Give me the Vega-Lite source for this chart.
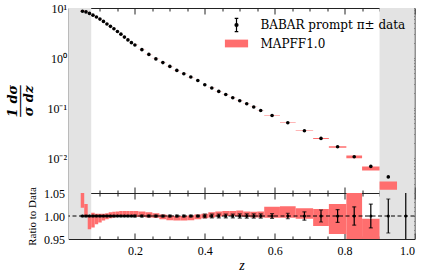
{
  "$schema": "https://vega.github.io/schema/vega-lite/v6.json",
  "padding": {"left": 6.5, "top": 2, "right": 5, "bottom": 2},
  "background": "white",
  "config": {
    "view": {"stroke": null},
    "font": "Liberation Serif",
    "axis": {
      "domainColor": "#222222", "tickColor": "#222222", "domainWidth": 1, "tickWidth": 1,
      "labelFont": "Liberation Serif", "labelFontSize": 12, "labelColor": "black",
      "titleFont": "Liberation Serif", "titleColor": "black", "grid": false, "zindex": 1
    }
  },
  "datasets": {
    "bands": [{"a": 0.01, "b": 0.075}, {"a": 0.9, "b": 1.0}],
    "ref": [{"r": 1}],
    "pts": [
      {"z":0.05,"zlo":0.045,"zhi":0.055,"y":8.6,"tlo":8.755,"thi":9.116,"rlo":1.018,"rhi":1.06,"elo":0.9985,"ehi":1.0015},
      {"z":0.06,"zlo":0.055,"zhi":0.065,"y":8.35,"tlo":8.35,"thi":8.567,"rlo":1.0,"rhi":1.026,"elo":0.9985,"ehi":1.0015},
      {"z":0.07,"zlo":0.065,"zhi":0.075,"y":7.8,"tlo":7.574,"thi":7.8,"rlo":0.971,"rhi":1.0,"elo":0.9985,"ehi":1.0015},
      {"z":0.08,"zlo":0.075,"zhi":0.085,"y":7.2,"tlo":7.02,"thi":7.25,"rlo":0.975,"rhi":1.007,"elo":0.9985,"ehi":1.0015},
      {"z":0.09,"zlo":0.085,"zhi":0.095,"y":6.6,"tlo":6.481,"thi":6.633,"rlo":0.982,"rhi":1.005,"elo":0.9985,"ehi":1.0015},
      {"z":0.10,"zlo":0.095,"zhi":0.105,"y":6.0,"tlo":5.916,"thi":6.03,"rlo":0.986,"rhi":1.005,"elo":0.9985,"ehi":1.0015},
      {"z":0.11,"zlo":0.105,"zhi":0.115,"y":5.4,"tlo":5.346,"thi":5.427,"rlo":0.99,"rhi":1.005,"elo":0.9985,"ehi":1.0015},
      {"z":0.12,"zlo":0.115,"zhi":0.125,"y":4.8,"tlo":4.766,"thi":4.829,"rlo":0.993,"rhi":1.006,"elo":0.9985,"ehi":1.0015},
      {"z":0.13,"zlo":0.125,"zhi":0.135,"y":4.3,"tlo":4.279,"thi":4.334,"rlo":0.995,"rhi":1.008,"elo":0.9985,"ehi":1.0015},
      {"z":0.14,"zlo":0.135,"zhi":0.145,"y":3.85,"tlo":3.838,"thi":3.885,"rlo":0.997,"rhi":1.009,"elo":0.9985,"ehi":1.0015},
      {"z":0.15,"zlo":0.145,"zhi":0.155,"y":3.4,"tlo":3.393,"thi":3.434,"rlo":0.998,"rhi":1.01,"elo":0.9985,"ehi":1.0015},
      {"z":0.16,"zlo":0.155,"zhi":0.165,"y":3.0,"tlo":2.994,"thi":3.033,"rlo":0.998,"rhi":1.011,"elo":0.9985,"ehi":1.0015},
      {"z":0.17,"zlo":0.165,"zhi":0.175,"y":2.62,"tlo":2.615,"thi":2.649,"rlo":0.998,"rhi":1.011,"elo":0.9985,"ehi":1.0015},
      {"z":0.18,"zlo":0.175,"zhi":0.185,"y":2.3,"tlo":2.295,"thi":2.325,"rlo":0.998,"rhi":1.011,"elo":0.9985,"ehi":1.0015},
      {"z":0.19,"zlo":0.185,"zhi":0.195,"y":2.03,"tlo":2.026,"thi":2.052,"rlo":0.998,"rhi":1.011,"elo":0.9985,"ehi":1.0015},
      {"z":0.20,"zlo":0.195,"zhi":0.21,"y":1.82,"tlo":1.816,"thi":1.84,"rlo":0.998,"rhi":1.011,"elo":0.998,"ehi":1.002},
      {"z":0.22,"zlo":0.21,"zhi":0.23,"y":1.47,"tlo":1.467,"thi":1.485,"rlo":0.998,"rhi":1.01,"elo":0.998,"ehi":1.002},
      {"z":0.24,"zlo":0.23,"zhi":0.25,"y":1.18,"tlo":1.176,"thi":1.189,"rlo":0.997,"rhi":1.008,"elo":0.998,"ehi":1.002},
      {"z":0.26,"zlo":0.25,"zhi":0.27,"y":0.96,"tlo":0.956,"thi":0.966,"rlo":0.996,"rhi":1.006,"elo":0.998,"ehi":1.002},
      {"z":0.28,"zlo":0.27,"zhi":0.29,"y":0.81,"tlo":0.804,"thi":0.812,"rlo":0.993,"rhi":1.003,"elo":0.998,"ehi":1.002},
      {"z":0.30,"zlo":0.29,"zhi":0.31,"y":0.68,"tlo":0.674,"thi":0.681,"rlo":0.991,"rhi":1.001,"elo":0.998,"ehi":1.002},
      {"z":0.32,"zlo":0.31,"zhi":0.33,"y":0.565,"tlo":0.559,"thi":0.565,"rlo":0.99,"rhi":1.0,"elo":0.998,"ehi":1.002},
      {"z":0.34,"zlo":0.33,"zhi":0.35,"y":0.485,"tlo":0.48,"thi":0.485,"rlo":0.99,"rhi":1.0,"elo":0.998,"ehi":1.002},
      {"z":0.36,"zlo":0.35,"zhi":0.37,"y":0.417,"tlo":0.413,"thi":0.417,"rlo":0.991,"rhi":1.001,"elo":0.998,"ehi":1.002},
      {"z":0.38,"zlo":0.37,"zhi":0.39,"y":0.356,"tlo":0.3535,"thi":0.357,"rlo":0.993,"rhi":1.003,"elo":0.998,"ehi":1.002},
      {"z":0.40,"zlo":0.39,"zhi":0.41,"y":0.292,"tlo":0.2905,"thi":0.2935,"rlo":0.995,"rhi":1.005,"elo":0.996,"ehi":1.004},
      {"z":0.42,"zlo":0.41,"zhi":0.43,"y":0.251,"tlo":0.2502,"thi":0.253,"rlo":0.997,"rhi":1.008,"elo":0.996,"ehi":1.004},
      {"z":0.44,"zlo":0.43,"zhi":0.45,"y":0.215,"tlo":0.2148,"thi":0.2172,"rlo":0.999,"rhi":1.01,"elo":0.996,"ehi":1.004},
      {"z":0.46,"zlo":0.45,"zhi":0.47,"y":0.187,"tlo":0.187,"thi":0.189,"rlo":1.0,"rhi":1.011,"elo":0.996,"ehi":1.004},
      {"z":0.48,"zlo":0.47,"zhi":0.49,"y":0.161,"tlo":0.161,"thi":0.1628,"rlo":1.0,"rhi":1.011,"elo":0.996,"ehi":1.004},
      {"z":0.50,"zlo":0.49,"zhi":0.51,"y":0.14,"tlo":0.1399,"thi":0.1417,"rlo":0.999,"rhi":1.012,"elo":0.9955,"ehi":1.0045},
      {"z":0.52,"zlo":0.51,"zhi":0.53,"y":0.122,"tlo":0.1218,"thi":0.1232,"rlo":0.998,"rhi":1.01,"elo":0.9955,"ehi":1.0045},
      {"z":0.54,"zlo":0.53,"zhi":0.55,"y":0.105,"tlo":0.1047,"thi":0.1059,"rlo":0.997,"rhi":1.009,"elo":0.9955,"ehi":1.0045},
      {"z":0.56,"zlo":0.55,"zhi":0.57,"y":0.0895,"tlo":0.0892,"thi":0.0904,"rlo":0.997,"rhi":1.01,"elo":0.9955,"ehi":1.0045},
      {"z":0.5925,"zlo":0.57,"zhi":0.615,"y":0.0711,"tlo":0.0708,"thi":0.0725,"rlo":0.996,"rhi":1.02,"elo":0.995,"ehi":1.005},
      {"z":0.6375,"zlo":0.615,"zhi":0.66,"y":0.0508,"tlo":0.0506,"thi":0.0519,"rlo":0.996,"rhi":1.021,"elo":0.994,"ehi":1.006},
      {"z":0.685,"zlo":0.66,"zhi":0.71,"y":0.0352,"tlo":0.035,"thi":0.0358,"rlo":0.994,"rhi":1.017,"elo":0.991,"ehi":1.009},
      {"z":0.7325,"zlo":0.71,"zhi":0.755,"y":0.0247,"tlo":0.02416,"thi":0.02507,"rlo":0.978,"rhi":1.015,"elo":0.987,"ehi":1.013},
      {"z":0.78,"zlo":0.755,"zhi":0.805,"y":0.0168,"tlo":0.01614,"thi":0.01724,"rlo":0.961,"rhi":1.026,"elo":0.986,"ehi":1.014},
      {"z":0.8275,"zlo":0.805,"zhi":0.85,"y":0.0106,"tlo":0.00996,"thi":0.01124,"rlo":0.94,"rhi":1.06,"elo":0.98,"ehi":1.02},
      {"z":0.875,"zlo":0.85,"zhi":0.9,"y":0.0068,"tlo":0.00564,"thi":0.00676,"rlo":0.83,"rhi":0.994,"elo":0.974,"ehi":1.026},
      {"z":0.925,"zlo":0.9,"zhi":0.95,"y":0.0042,"tlo":0.00231,"thi":0.0034,"rlo":0.55,"rhi":0.81,"elo":0.963,"ehi":1.037},
      {"z":0.975,"zlo":0.95,"zhi":1.0,"y":0.0015,"tlo":0.00075,"thi":0.00113,"rlo":0.5,"rhi":0.75,"elo":0.9,"ehi":1.1}
    ]
  },
  "spacing": 0,
  "bounds": "flush",
  "vconcat": [
    {
      "width": 346,
      "height": 185,
      "layer": [
        {
          "data": {"name": "bands"},
          "mark": {"type": "rect", "color": "#e3e3e3"},
          "encoding": {
            "x": {"field": "a", "type": "quantitative", "scale": {"domain": [0.01, 1], "nice": false, "zero": false}, "axis": null},
            "x2": {"field": "b"}
          }
        },
        {
          "data": {"name": "pts"},
          "mark": {"type": "rect", "clip": true},
          "encoding": {
            "x": {"field": "zlo", "type": "quantitative",
              "axis": {"orient": "bottom", "values": [0.05,0.1,0.15,0.2,0.25,0.3,0.35,0.4,0.45,0.5,0.55,0.6,0.65,0.7,0.75,0.8,0.85,0.9,0.95,1],
                "labels": false, "title": null,
                "tickSize": {"condition": {"test": "abs(datum.value*5-round(datum.value*5))<1e-6", "value": -6}, "value": -3}}},
            "x2": {"field": "zhi"},
            "y": {"field": "tlo", "type": "quantitative", "scale": {"type": "log", "domain": [0.002, 10], "nice": false},
              "axis": {"orient": "left",
                "values": [0.002,0.003,0.004,0.005,0.006,0.007,0.008,0.009,0.01,0.02,0.03,0.04,0.05,0.06,0.07,0.08,0.09,0.1,0.2,0.3,0.4,0.5,0.6,0.7,0.8,0.9,1,2,3,4,5,6,7,8,9,10],
                "labelExpr": "datum.value === 10 ? '10¹' : datum.value === 1 ? '10⁰' : datum.value === 0.1 ? '10⁻¹' : datum.value === 0.01 ? '10⁻²' : ''",
                "tickSize": {"condition": {"test": "abs(log(datum.value)/LN10-round(log(datum.value)/LN10))<1e-6", "value": -6}, "value": -3},
                "labelPadding": 8,
                "title": ["1 dσ", "────", "σ dz"],
                "titleFont": "DejaVu Serif", "titleFontSize": 13, "titleFontWeight": "bold", "titleFontStyle": "italic",
                "titleLineHeight": 8, "titleX": -56, "titleY": 92.5, "titleAngle": 270,
                "titleAlign": "center", "titleBaseline": "middle"}},
            "y2": {"field": "thi"},
            "color": {"datum": "MAPFF1.0", "type": "nominal",
              "scale": {"domain": ["BABAR prompt π± data", "MAPFF1.0"], "range": ["black", "#ff6e6e"]},
              "legend": {"orient": "none", "legendX": 162, "legendY": 11, "title": null,
                "symbolSize": 64, "labelFont": "DejaVu Serif", "labelFontSize": 12, "labelColor": "black",
                "rowPadding": 2.5, "labelOffset": 18, "padding": 0,
                "encode": {"symbols": {"update": {
                  "shape": {"signal": "datum.value === 'MAPFF1.0' ? 'M-2.9,-0.97H2.9V0.97H-2.9Z' : 'M0,-1.65V1.65M-0.45,-1.65H0.45M-0.45,1.65H0.45M0.38,0A0.38,0.38,0,1,1,-0.38,0A0.38,0.38,0,1,1,0.38,0'"},
                  "fill": {"signal": "datum.value === 'MAPFF1.0' ? '#ff6e6e' : 'black'"},
                  "stroke": {"signal": "datum.value === 'MAPFF1.0' ? 'transparent' : 'black'"},
                  "strokeWidth": {"value": 1.2},
                  "opacity": {"value": 1}
                }}}}}
          }
        },
        {
          "data": {"name": "pts"},
          "mark": {"type": "point", "filled": true, "size": 13, "opacity": 1, "clip": true},
          "encoding": {
            "x": {"field": "z", "type": "quantitative",
              "axis": {"orient": "top", "values": [0.05,0.1,0.15,0.2,0.25,0.3,0.35,0.4,0.45,0.5,0.55,0.6,0.65,0.7,0.75,0.8,0.85,0.9,0.95,1],
                "labels": false, "title": null,
                "tickSize": {"condition": {"test": "abs(datum.value*5-round(datum.value*5))<1e-6", "value": -6}, "value": -3}}},
            "y": {"field": "y", "type": "quantitative",
              "axis": {"orient": "right", "labels": false, "title": null,
                "values": [0.002,0.003,0.004,0.005,0.006,0.007,0.008,0.009,0.01,0.02,0.03,0.04,0.05,0.06,0.07,0.08,0.09,0.1,0.2,0.3,0.4,0.5,0.6,0.7,0.8,0.9,1,2,3,4,5,6,7,8,9,10],
                "tickSize": {"condition": {"test": "abs(log(datum.value)/LN10-round(log(datum.value)/LN10))<1e-6", "value": -6}, "value": -3}}},
            "color": {"datum": "BABAR prompt π± data", "type": "nominal"}
          }
        }
      ],
      "resolve": {"axis": {"x": "independent", "y": "independent"}}
    },
    {
      "width": 346,
      "height": 46,
      "layer": [
        {
          "data": {"name": "bands"},
          "mark": {"type": "rect", "color": "#e3e3e3"},
          "encoding": {
            "x": {"field": "a", "type": "quantitative", "scale": {"domain": [0.01, 1], "nice": false, "zero": false}, "axis": null},
            "x2": {"field": "b"}
          }
        },
        {
          "data": {"name": "pts"},
          "mark": {"type": "rect", "clip": true, "color": "#ff6e6e"},
          "encoding": {
            "x": {"field": "zlo", "type": "quantitative",
              "axis": {"orient": "bottom", "values": [0.05,0.1,0.15,0.2,0.25,0.3,0.35,0.4,0.45,0.5,0.55,0.6,0.65,0.7,0.75,0.8,0.85,0.9,0.95,1],
                "labelExpr": "abs(datum.value*5-round(datum.value*5))<1e-6 ? format(datum.value, '.1f') : ''",
                "tickSize": {"condition": {"test": "abs(datum.value*5-round(datum.value*5))<1e-6", "value": -6}, "value": -3},
                "labelPadding": 12,
                "title": "z", "titleFontStyle": "italic", "titleFontSize": 14, "titleFontWeight": "normal", "titlePadding": 2}},
            "x2": {"field": "zhi"},
            "y": {"field": "rlo", "type": "quantitative", "scale": {"domain": [0.95, 1.05], "nice": false, "zero": false},
              "axis": {"orient": "left",
                "values": [0.95,0.96,0.97,0.98,0.99,1,1.01,1.02,1.03,1.04,1.05],
                "labelExpr": "abs(datum.value*20-round(datum.value*20))<1e-6 ? format(datum.value, '.2f') : ''",
                "tickSize": {"condition": {"test": "abs(datum.value*20-round(datum.value*20))<1e-6", "value": -6}, "value": -3},
                "labelPadding": 10,
                "title": "Ratio to Data", "titleFontSize": 11, "titleFontWeight": "normal",
                "titleX": -36, "titleY": 23, "titleAngle": 270, "titleAlign": "center", "titleBaseline": "middle"}},
            "y2": {"field": "rhi"}
          }
        },
        {
          "data": {"name": "ref"},
          "mark": {"type": "rule", "color": "black", "strokeDash": [4, 2.5], "strokeWidth": 1},
          "encoding": {"y": {"field": "r", "type": "quantitative", "axis": null}}
        },
        {
          "data": {"name": "pts"},
          "mark": {"type": "errorbar", "ticks": {"size": 4, "color": "black"}, "color": "black", "thickness": 1.2, "clip": true},
          "encoding": {
            "x": {"field": "z", "type": "quantitative",
              "axis": {"orient": "top", "values": [0.05,0.1,0.15,0.2,0.25,0.3,0.35,0.4,0.45,0.5,0.55,0.6,0.65,0.7,0.75,0.8,0.85,0.9,0.95,1],
                "labels": false, "title": null,
                "tickSize": {"condition": {"test": "abs(datum.value*5-round(datum.value*5))<1e-6", "value": -6}, "value": -3}}},
            "y": {"field": "elo", "type": "quantitative",
              "axis": {"orient": "right", "labels": false, "title": null,
                "values": [0.95,0.96,0.97,0.98,0.99,1,1.01,1.02,1.03,1.04,1.05],
                "tickSize": {"condition": {"test": "abs(datum.value*20-round(datum.value*20))<1e-6", "value": -6}, "value": -3}}},
            "y2": {"field": "ehi"}
          }
        },
        {
          "data": {"name": "pts"},
          "mark": {"type": "point", "filled": true, "size": 10, "opacity": 1, "color": "black", "clip": true},
          "encoding": {
            "x": {"field": "z", "type": "quantitative", "axis": null},
            "y": {"datum": 1, "type": "quantitative", "axis": null}
          }
        }
      ],
      "resolve": {"axis": {"x": "independent", "y": "independent"}}
    }
  ]
}
